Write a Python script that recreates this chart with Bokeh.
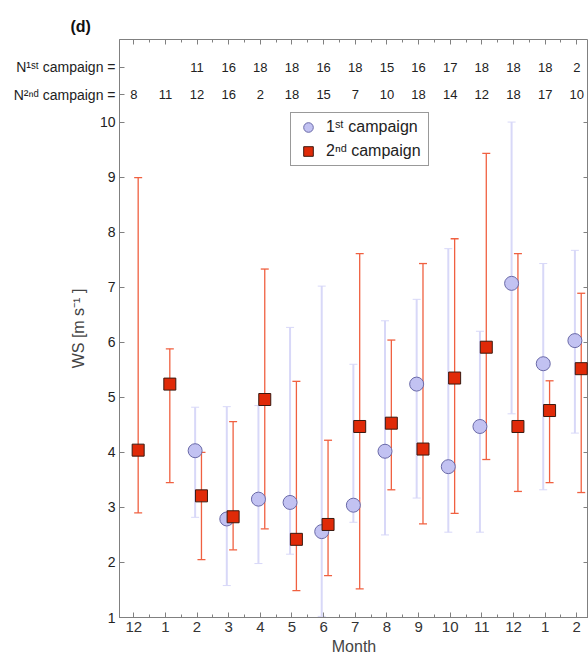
from bokeh.plotting import figure
from bokeh.models import (Range1d, LinearAxis, FixedTicker, Whisker, TeeHead,
                          ColumnDataSource, Legend, LegendItem, CustomLabelingPolicy)
from bokeh.embed import file_html
from bokeh.resources import INLINE
from bokeh.core.properties import value

# ---------------- data ----------------
months = ["12", "1", "2", "3", "4", "5", "6", "7", "8", "9", "10", "11", "12", "1", "2"]
n_1st = ["", "", "11", "16", "18", "18", "16", "18", "15", "16", "17", "18", "18", "18", "2"]
n_2nd = ["8", "11", "12", "16", "2", "18", "15", "7", "10", "18", "14", "12", "18", "17", "10"]
n_row_labels = ["N\u00b9\u02e2\u1d57 campaign =", "N\u00b2\u207f\u1d48 campaign ="]
y_ticks = [1, 2, 3, 4, 5, 6, 7, 8, 9, 10]

# 1st campaign (starts at month index 2)
idx_1st = [2, 3, 4, 5, 6, 7, 8, 9, 10, 11, 12, 13, 14]
ws_1st = [4.03, 2.79, 3.15, 3.09, 2.56, 3.04, 4.02, 5.24, 3.74, 4.47, 7.07, 5.61, 6.03]
ws_1st_hi = [4.82, 4.83, 4.85, 6.27, 7.02, 5.60, 6.39, 6.78, 7.70, 6.20, 10.0, 7.43, 7.67]
ws_1st_lo = [2.82, 1.58, 1.98, 2.15, 1.02, 2.73, 2.50, 3.17, 2.55, 2.55, 4.70, 3.32, 4.35]

# 2nd campaign
idx_2nd = [0, 1, 2, 3, 4, 5, 6, 7, 8, 9, 10, 11, 12, 13, 14]
ws_2nd = [4.04, 5.24, 3.21, 2.83, 4.96, 2.42, 2.69, 4.47, 4.53, 4.06, 5.35, 5.91, 4.47, 4.76, 5.52]
ws_2nd_hi = [8.99, 5.88, 4.00, 4.56, 7.33, 5.29, 4.22, 7.61, 6.04, 7.43, 7.88, 9.43, 7.61, 5.30, 6.89]
ws_2nd_lo = [2.90, 3.45, 2.05, 2.23, 2.61, 1.49, 1.76, 1.52, 3.32, 2.70, 2.89, 3.87, 3.29, 3.45, 3.27]

FONT = "Liberation Sans"
AX = "#808080"
TXT = "#333333"
C1_FILL, C1_LINE, C1_BAR = "#c2c2f2", "#6a6aa8", "#d8d8f8"
C2_FILL, C2_LINE, C2_BAR = "#e02a08", "#3a1a10", "#f06040"
OFF1, OFF2 = -0.06, 0.14
ROW1_Y, ROW2_Y = 11.0, 10.5

p = figure(width=588, height=659, output_backend="svg", toolbar_location=None,
           x_range=Range1d(-0.45, 14.37), y_range=Range1d(1, 11.5),
           min_border_left=119, min_border_right=0, min_border_top=39,
           min_border_bottom=42, x_axis_label="Month", y_axis_label="WS [m s\u207b\u00b9 ]")
p.grid.visible = False
p.outline_line_color = AX
p.background_fill_color = "white"
p.border_fill_color = "white"

p.title.text = "(d)"
p.title.align = "left"
p.title.offset = -49
p.title.text_font = FONT
p.title.text_font_size = "16px"
p.title.text_font_style = "bold"
p.title.text_color = "#111111"

xt = FixedTicker(ticks=list(range(len(months))),
                 minor_ticks=[i + 0.5 for i in range(-1, len(months))])
yt = FixedTicker(ticks=y_ticks, minor_ticks=[])
yt_left = FixedTicker(ticks=y_ticks + [ROW2_Y, ROW1_Y], minor_ticks=[])


def style(ax):
    ax.axis_line_color = AX
    ax.major_tick_line_color = AX
    ax.minor_tick_line_color = AX
    ax.major_tick_in = 5
    ax.major_tick_out = 0
    ax.minor_tick_in = 3
    ax.minor_tick_out = 0
    ax.major_label_text_font = FONT
    ax.major_label_text_font_size = "15px"
    ax.major_label_text_color = TXT
    ax.major_label_standoff = 4
    ax.axis_label_text_font = FONT
    ax.axis_label_text_font_size = "16px"
    ax.axis_label_text_font_style = "normal"
    ax.axis_label_text_color = "#444444"
    ax.axis_label_standoff = 3


xa = p.xaxis[0]
ya = p.yaxis[0]
xa.ticker = xt
xa.major_label_overrides = {i: m for i, m in enumerate(months)}
style(xa)

ya.ticker = yt_left
overrides = {t: str(t) for t in y_ticks}
overrides[ROW1_Y] = n_row_labels[0]
overrides[ROW2_Y] = n_row_labels[1]
ya.major_label_overrides = overrides
style(ya)
ya.major_label_text_font_size = "14px"
ya.major_label_text_color = "#222222"
ya.axis_label_standoff = -76

no_labels = CustomLabelingPolicy(code="return new Set()")
top = LinearAxis(ticker=xt)
right = LinearAxis(ticker=yt)
for ax in (top, right):
    style(ax)
    ax.axis_line_color = None
    ax.major_label_policy = no_labels
    ax.major_label_text_font_size = "0px"
    ax.major_label_standoff = 0
    ax.axis_label_standoff = 0
p.add_layout(top, "above")
p.add_layout(right, "right")

src1 = ColumnDataSource(dict(x=[i + OFF1 for i in idx_1st], y=ws_1st, hi=ws_1st_hi, lo=ws_1st_lo))
src2 = ColumnDataSource(dict(x=[i + OFF2 for i in idx_2nd], y=ws_2nd, hi=ws_2nd_hi, lo=ws_2nd_lo))

w1 = Whisker(source=src1, base="x", upper="hi", lower="lo", line_color=C1_BAR, line_width=2,
             upper_head=TeeHead(size=8, line_color=C1_BAR, line_width=1),
             lower_head=TeeHead(size=8, line_color=C1_BAR, line_width=1))
w2 = Whisker(source=src2, base="x", upper="hi", lower="lo", line_color=C2_BAR, line_width=1.3,
             upper_head=TeeHead(size=8, line_color=C2_BAR, line_width=1.3),
             lower_head=TeeHead(size=8, line_color=C2_BAR, line_width=1.3))
p.add_layout(w1)
p.add_layout(w2)

r1 = p.scatter("x", "y", source=src1, marker="circle", size=14,
               fill_color=C1_FILL, line_color=C1_LINE, line_width=1)
r2 = p.scatter("x", "y", source=src2, marker="square", size=12,
               fill_color=C2_FILL, line_color=C2_LINE, line_width=1)

# N counts rows
nsrc = ColumnDataSource(dict(x=list(range(len(months))), n1=n_1st, n2=n_2nd))
p.text(x="x", y=ROW1_Y, text="n1", source=nsrc, text_align="center", text_baseline="middle",
       text_font=value(FONT), text_font_size="13px", text_color="#222222")
p.text(x="x", y=ROW2_Y, text="n2", source=nsrc, text_align="center", text_baseline="middle",
       text_font=value(FONT), text_font_size="13px", text_color="#222222")

legend = Legend(items=[LegendItem(label="1\u02e2\u1d57 campaign", renderers=[r1]),
                       LegendItem(label="2\u207f\u1d48 campaign", renderers=[r2])],
                location=(171, 451))
legend.border_line_color = "#333333"
legend.border_line_width = 1
legend.label_text_font = FONT
legend.label_text_font_size = "16px"
legend.label_text_color = "#222222"
legend.padding = 2
legend.spacing = 0
legend.margin = 0
legend.glyph_width = 30
legend.glyph_height = 24
legend.label_standoff = 3
legend.label_width = 100
legend.background_fill_alpha = 1
p.add_layout(legend)

open("out.html", "w").write(file_html(p, INLINE))
